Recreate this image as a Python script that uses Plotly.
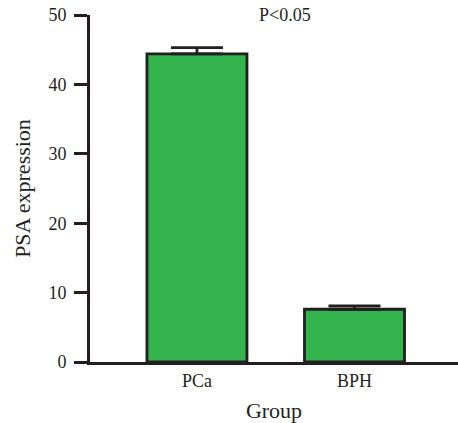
import plotly.graph_objects as go

groups = ["PCa", "BPH"]
means = [44.4, 7.6]
errors = [0.9, 0.5]
yticks = [0, 10, 20, 30, 40, 50]

FONT = "Liberation Serif"
DARK = "#231f20"

fig = go.Figure()
fig.add_trace(go.Bar(
    x=[0, 1], y=means, width=0.635,
    marker=dict(color="#32b34b", line=dict(color=DARK, width=2.8)),
    error_y=dict(type="data", array=errors, arrayminus=[0, 0], color=DARK, thickness=2.8, width=26, visible=True),
    showlegend=False,
))
fig.add_annotation(text="P<0.05", x=0.53, xref="paper", y=1.0, yref="paper",
                   showarrow=False, font=dict(family=FONT, size=18, color=DARK),
                   yanchor="middle", xanchor="center")
fig.update_layout(
    width=458, height=423,
    margin=dict(l=90, r=0, t=15, b=61),
    plot_bgcolor="white", paper_bgcolor="white",
    font=dict(family=FONT, size=18, color=DARK),
    xaxis=dict(range=[-0.679, 1.657], tickvals=[0, 1], ticktext=groups,
               showline=True, linecolor=DARK, linewidth=2.8, ticks="", showgrid=False,
               zeroline=False, title=dict(text="Group", standoff=15)),
    yaxis=dict(range=[0, 50], tickvals=yticks, showline=True, linecolor=DARK, linewidth=2.8,
               ticks="outside", ticklen=13, tickwidth=2.8, tickcolor=DARK, showgrid=False,
               ticklabelstandoff=4,
               zeroline=False, title=dict(text="PSA expression", standoff=12)),
)
fig.write_html("out.html")
